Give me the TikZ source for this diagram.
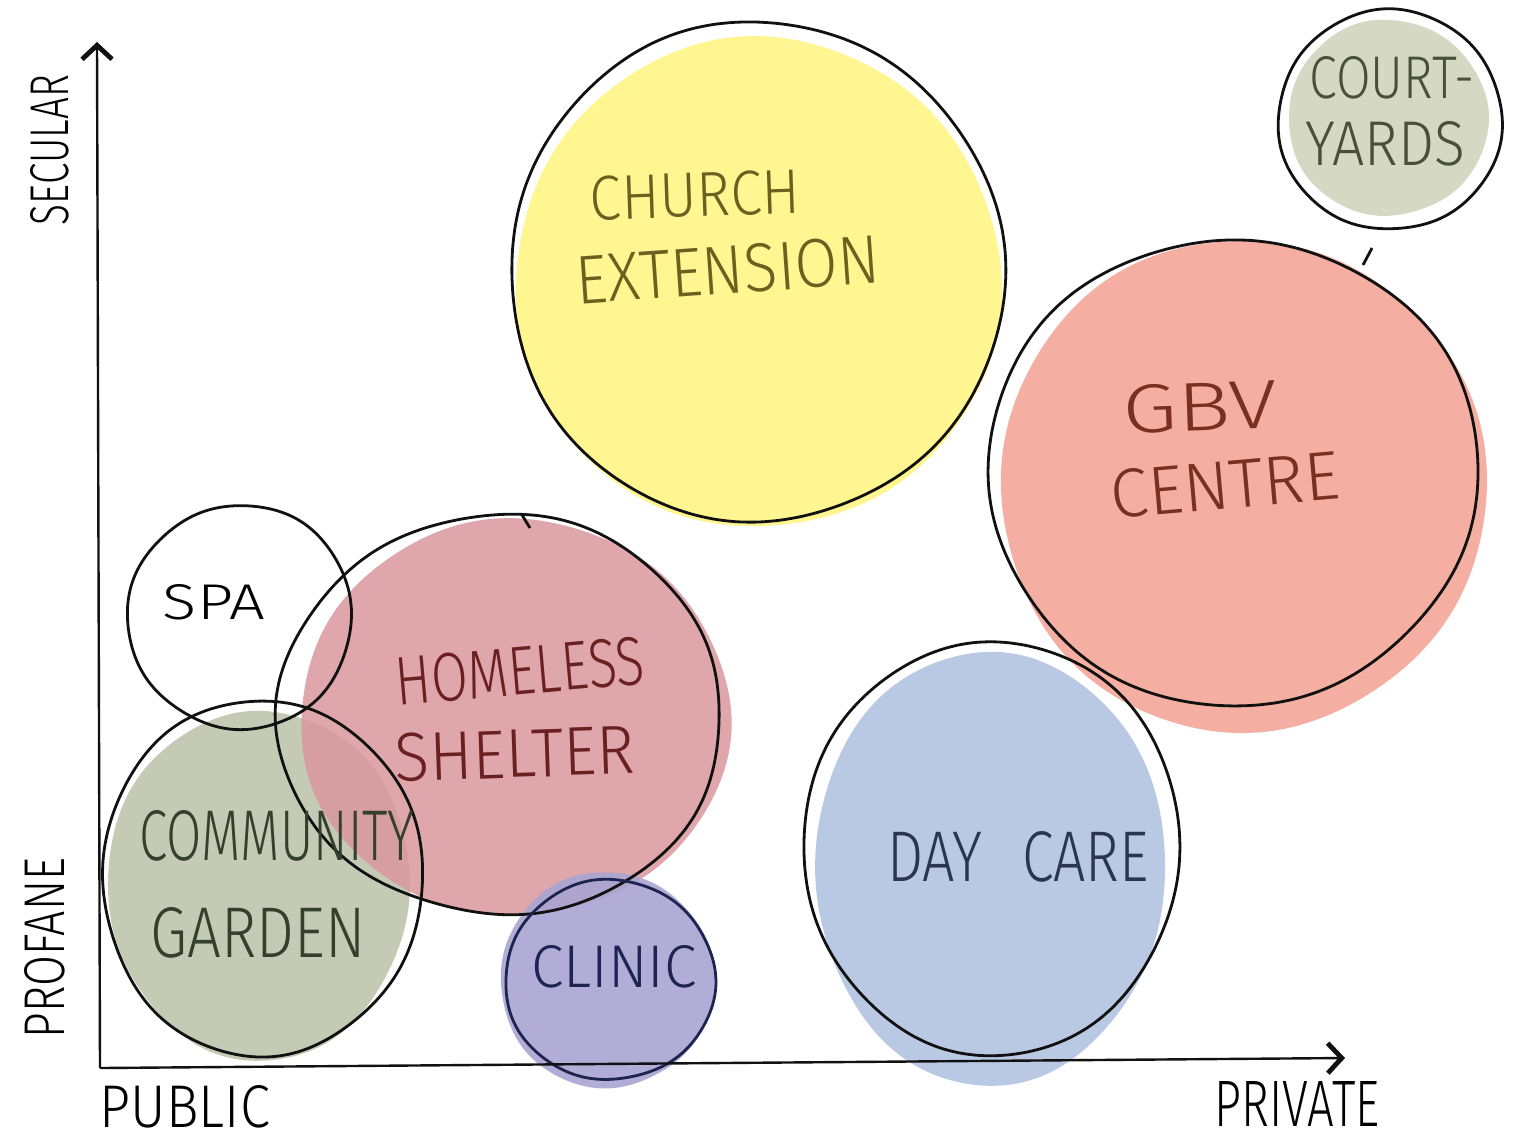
\documentclass[tikz,border=0pt]{standalone}
\usepackage{fontspec}
\setmainfont{Fira Sans}
\newfontfamily\hand{Fira Sans Light}
\usepackage{graphicx}
\usetikzlibrary{arrows.meta}
\newlength\upx \setlength\upx{0.5pt}
\newcommand\fitt[3]{\resizebox{#1\upx}{#2\upx}{\hand #3}}
\newcommand\blob[7]{%
  \path[#1] plot[smooth cycle, domain=0:355, samples=72]
   ({#2+#4*(1+#6*sin(3*\x+#7)+0.5*#6*sin(7*\x+2*#7))*cos(\x)},
    {#3+#5*(1+#6*sin(3*\x+#7)+0.5*#6*sin(7*\x+2*#7))*sin(\x)});}
\definecolor{cyellow}{HTML}{FFF691}
\definecolor{ccourt}{HTML}{D5D8C3}
\definecolor{cgbv}{HTML}{F4AEA2}
\definecolor{chome}{HTML}{DA979D}
\definecolor{ccomm}{HTML}{C5CAB5}
\definecolor{cclin}{HTML}{A9A5D3}
\definecolor{cday}{HTML}{B9C9E3}
\definecolor{tchurch}{HTML}{6B6020}
\definecolor{tcourt}{HTML}{4A5038}
\definecolor{tgbv}{HTML}{7A2F20}
\definecolor{thome}{HTML}{6A2020}
\definecolor{tcomm}{HTML}{33402E}
\definecolor{tclin}{HTML}{1E2450}
\definecolor{tday}{HTML}{2A3550}
\definecolor{ink}{HTML}{111111}
\begin{document}
\begin{tikzpicture}[x=0.5pt,y=-0.5pt,
  lbl/.style={inner sep=0pt, anchor=center},
  outline/.style={draw=ink, line width=1.4pt},
  axis/.style={draw=ink, line width=1.2pt},
  tip/.style={-{Straight Barb[length=7pt,width=15pt,line width=2.4pt]}}]
\useasboundingbox (0,0) rectangle (1513,1142);
\fill[white] (0,0) rectangle (1513,1142);

% fills
\blob{fill=cyellow}{758}{283}{243}{245}{0.006}{20}
\blob{fill=ccourt}{1388}{118}{100}{98}{0.008}{60}
\blob{fill=cgbv}{1243}{486}{243}{246}{0.006}{110}
\blob{fill=ccomm}{259}{885}{151}{175}{0.008}{200}
\blob{fill=chome, fill opacity=0.85}{515}{718}{215}{198}{0.008}{30}
\blob{fill=cclin, fill opacity=0.9}{607}{980}{107}{108}{0.008}{90}
\blob{fill=cday}{990}{868}{175}{217}{0.006}{150}

% outlines
\blob{outline}{757}{272}{247}{250}{0.006}{70}
\blob{outline}{1390}{120}{112}{110}{0.008}{10}
\blob{outline}{1233}{472}{245}{233}{0.007}{160}
\blob{outline}{240}{617}{112}{112}{0.008}{250}
\blob{outline}{500}{715}{222}{200}{0.01}{300}
\blob{outline}{262}{878}{160}{178}{0.008}{120}
\blob{outline, draw=tclin}{610}{980}{105}{100}{0.008}{40}
\blob{outline}{992}{848}{188}{207}{0.006}{210}
\draw[outline] (1372,248) -- (1363,265);
\draw[outline] (522,515) -- (530,528);

% axes
\coordinate (O) at (100,1068);
\coordinate (Ytop) at (97,42);
\coordinate (Xend) at (1345,1058);
\draw[axis, tip] (O) -- (Ytop);
\draw[axis, tip] (O) -- (Xend);

% axis labels
\node[lbl, rotate=90] (secular) at (50,150) {\fitt{150}{38}{SECULAR}};
\node[lbl, rotate=90] (profane) at (45,948) {\fitt{180}{40}{PROFANE}};
\node[lbl] (public) at (185,1107) {\fitt{170}{42}{PUBLIC}};
\node[lbl] (private) at (1297,1104) {\fitt{165}{45}{PRIVATE}};

% circle labels
\node[lbl, text=tchurch, rotate=2] (ch1) at (695,195) {\fitt{210}{44}{CHURCH}};
\node[lbl, text=tchurch, rotate=4] (ch2) at (728,270) {\fitt{305}{48}{EXTENSION}};
\node[lbl, text=tcourt] (co1) at (1392,78) {\fitt{165}{42}{COURT-}};
\node[lbl, text=tcourt] (co2) at (1385,144) {\fitt{160}{44}{YARDS}};
\node[lbl, text=tgbv, rotate=2] (gb1) at (1200,407) {\fitt{155}{48}{GBV}};
\node[lbl, text=tgbv, rotate=5] (gb2) at (1225,485) {\fitt{230}{48}{CENTRE}};
\node[lbl] (spa) at (214,602) {\fitt{102}{35}{SPA}};
\node[lbl, text=thome, rotate=5] (ho1) at (520,671) {\fitt{250}{48}{HOMELESS}};
\node[lbl, text=thome, rotate=2] (ho2) at (515,754) {\fitt{240}{48}{SHELTER}};
\node[lbl, text=tcomm] (cm1) at (277,836) {\fitt{275}{50}{COMMUNITY}};
\node[lbl, text=tcomm] (cm2) at (258,933) {\fitt{215}{50}{GARDEN}};
\node[lbl, text=tclin] (cl) at (614,967) {\fitt{165}{42}{CLINIC}};
\node[lbl, text=tday] (dc) at (1018,857) {\fitt{262}{50}{DAY\hspace{0.7em}CARE}};
\end{tikzpicture}
\end{document}
